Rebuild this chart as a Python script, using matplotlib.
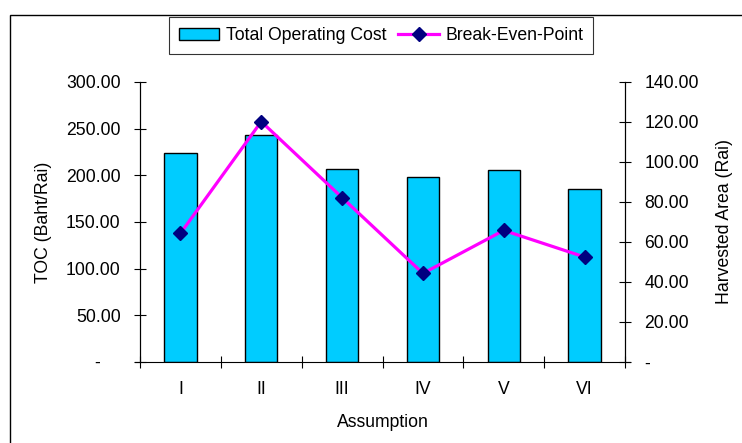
import matplotlib
matplotlib.use("Agg")
import matplotlib.pyplot as plt
import matplotlib.patches as mpatches
from matplotlib.ticker import FixedLocator, FixedFormatter

# --------------------------------------------------------------------
# Data
# --------------------------------------------------------------------
assumptions = ["I", "II", "III", "IV", "V", "VI"]
toc = [224.0, 242.7, 207.1, 198.6, 206.0, 185.4]          # Baht/Rai
bep = [64.3, 120.2, 82.2, 44.3, 65.8, 52.5]               # Rai

left_ticks = [0, 50, 100, 150, 200, 250, 300]
left_labels = ["-    ", "50.00", "100.00", "150.00", "200.00", "250.00", "300.00"]
right_ticks = [0, 20, 40, 60, 80, 100, 120, 140]
right_labels = ["-", "20.00", "40.00", "60.00", "80.00", "100.00", "120.00", "140.00"]

plt.rcParams["font.family"] = ["Liberation Sans", "DejaVu Sans"]
plt.rcParams["font.size"] = 12.7

cyan = "#00ccff"
magenta = "#ff00ff"
navy = "#000080"

fig = plt.figure(figsize=(7.42, 4.43), dpi=100)
ax = fig.add_axes([140 / 742, 1 - 362 / 443, 485 / 742, 280 / 443])
ax2 = ax.twinx()

x = list(range(len(assumptions)))
ax.bar(x, toc, width=0.4, color=cyan, edgecolor="black", linewidth=1.0, zorder=2)
ax2.plot(x, bep, color=magenta, linewidth=2.3, marker="D", markersize=7.5,
         markerfacecolor=navy, markeredgecolor=navy, zorder=3)

# --------------------------------------------------------------------
# Axes
# --------------------------------------------------------------------
ax.set_xlim(-0.5, len(assumptions) - 0.5)
ax.set_ylim(0, 300)
ax2.set_ylim(0, 140)

ax.xaxis.set_major_locator(FixedLocator([i - 0.5 for i in range(len(assumptions) + 1)]))
ax.xaxis.set_major_formatter(FixedFormatter([""] * (len(assumptions) + 1)))
ax.xaxis.set_minor_locator(FixedLocator(x))
ax.xaxis.set_minor_formatter(FixedFormatter(assumptions))
ax.tick_params(axis="x", which="major", direction="inout", length=8, width=0.8)
ax.tick_params(axis="x", which="minor", length=0, pad=14)

ax.set_yticks(left_ticks)
ax.set_yticklabels(left_labels)
ax.tick_params(axis="y", direction="inout", length=8, width=0.8, pad=10)
ax2.set_yticks(right_ticks)
ax2.set_yticklabels(right_labels)
ax2.tick_params(axis="y", direction="inout", length=8, width=0.8, pad=10)

for a in (ax, ax2):
    a.spines["top"].set_visible(False)
    for s in a.spines.values():
        s.set_linewidth(0.8)
ax2.spines["bottom"].set_visible(False)
ax.spines["bottom"].set_bounds(-0.56, len(assumptions) - 0.44)

ax.set_xlabel("Assumption", labelpad=11)
ax.set_ylabel("TOC (Baht/Rai)", labelpad=10)
ax2.set_ylabel("Harvested Area (Rai)", labelpad=12)

# --------------------------------------------------------------------
# Legend + outer frame
# --------------------------------------------------------------------
h_bar = mpatches.Patch(facecolor=cyan, edgecolor="black", linewidth=1.0,
                       label="Total Operating Cost")
h_line = plt.Line2D([], [], color=magenta, linewidth=2.3, marker="D",
                    markersize=7.5, markerfacecolor=navy, markeredgecolor=navy,
                    label="Break-Even-Point")
leg = fig.legend(handles=[h_bar, h_line], loc="center", ncol=2,
                 bbox_to_anchor=(381 / 742, 1 - 35.5 / 443),
                 frameon=True, fancybox=False, edgecolor="black",
                 handlelength=2.3, handletextpad=0.35, columnspacing=0.7,
                 borderpad=0.55, borderaxespad=0)
leg.get_frame().set_linewidth(0.8)

fig.patches.append(mpatches.Rectangle((10 / 742, -0.1), 1.2, 1.1 - 15 / 443,
                                      transform=fig.transFigure, fill=False,
                                      edgecolor="black", linewidth=1.0))

plt.savefig("out.png", dpi=100)
